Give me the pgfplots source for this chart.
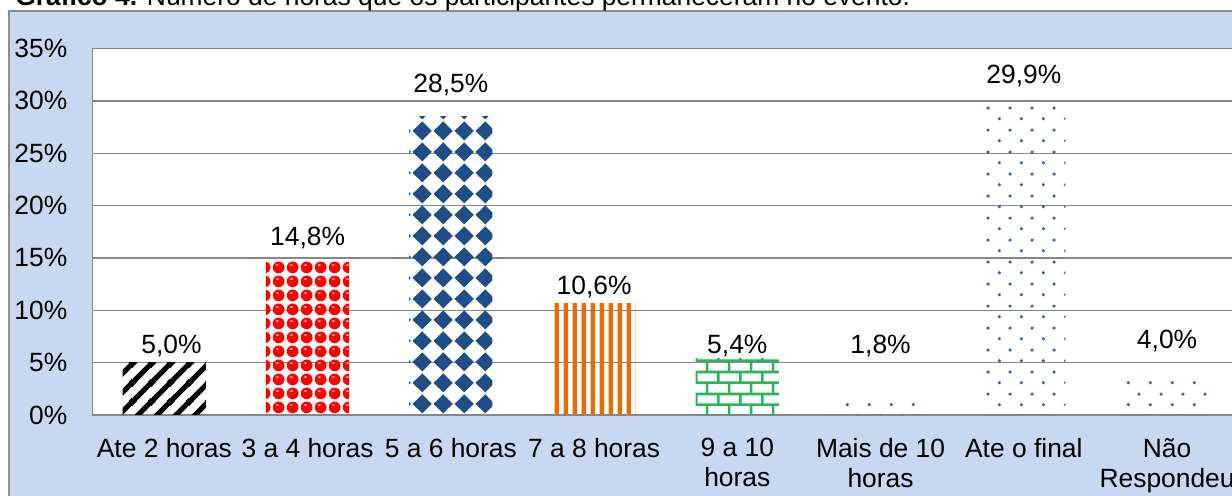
\documentclass[border=0pt]{standalone}
\usepackage{fontspec}
\setmainfont{Liberation Sans}
\usepackage{pgfplots}
\pgfplotsset{compat=1.18}
\usetikzlibrary{patterns.meta}
\definecolor{bgblue}{HTML}{C6D9F1}
\definecolor{framegray}{HTML}{8C8C8C}
\definecolor{gridgray}{HTML}{878787}
\definecolor{diamblue}{HTML}{1F4E86}
\definecolor{dotblue}{HTML}{3E62A0}
\definecolor{brickgreen}{HTML}{2BB45E}
\definecolor{orng}{HTML}{E46C0A}

\tikzdeclarepattern{name=bdiag, type=colored,
  bottom left={(0pt,0pt)}, top right={(9.5pt,9.5pt)}, tile size={(9.5pt,9.5pt)},
  code={
    \draw[black, line width=2.6pt] (-1pt,-1pt) -- (10.5pt,10.5pt);
    \draw[black, line width=2.6pt] (-5.75pt,3.75pt) -- (5.75pt,15.25pt);
    \draw[black, line width=2.6pt] (3.75pt,-5.75pt) -- (15.25pt,5.75pt);
  }}
\tikzdeclarepattern{name=redsph, type=colored,
  bottom left={(0pt,0pt)}, top right={(6.8pt,6.8pt)}, tile size={(6.8pt,6.8pt)},
  code={
    \fill[red] (3.4pt,3.4pt) circle (3.0pt);
    \fill[red!20!white] (2.7pt,4.6pt) ellipse (1.0pt and 0.45pt);
  }}
\tikzdeclarepattern{name=bdiam, type=colored,
  bottom left={(0pt,0pt)}, top right={(10.3pt,10.3pt)}, tile size={(10.3pt,10.3pt)},
  code={
    \fill[diamblue] (5.15pt,0.3pt) -- (10.0pt,5.15pt) -- (5.15pt,10.0pt) -- (0.3pt,5.15pt) -- cycle;
  }}
\tikzdeclarepattern{name=overt, type=colored,
  bottom left={(0pt,0pt)}, top right={(4.25pt,60pt)}, tile size={(4.25pt,60pt)},
  code={
    \fill[orng] (0.9pt,-1pt) rectangle (3.2pt,61pt);
  }}
\tikzdeclarepattern{name=gbrick, type=colored,
  bottom left={(0pt,0pt)}, top right={(10.8pt,10.8pt)}, tile size={(10.8pt,10.8pt)},
  code={
    \draw[brickgreen, line width=1.3pt] (-1pt,2.7pt) -- (11.8pt,2.7pt);
    \draw[brickgreen, line width=1.3pt] (-1pt,8.1pt) -- (11.8pt,8.1pt);
    \draw[brickgreen, line width=1.3pt] (2.7pt,2.7pt) -- (2.7pt,8.1pt);
    \draw[brickgreen, line width=1.3pt] (8.1pt,8.1pt) -- (8.1pt,11.8pt);
    \draw[brickgreen, line width=1.3pt] (8.1pt,-1pt) -- (8.1pt,2.7pt);
  }}
\tikzdeclarepattern{name=bdots, type=colored,
  bottom left={(0pt,0pt)}, top right={(10.8pt,10.8pt)}, tile size={(10.8pt,10.8pt)},
  code={
    \fill[dotblue] (2.7pt,2.7pt) circle (0.9pt);
    \fill[dotblue] (8.1pt,8.1pt) circle (0.9pt);
  }}

\begin{document}
\begin{tikzpicture}
\path[use as bounding box] (0,0) rectangle (616pt,248pt);
\clip (0,0) rectangle (616pt,248pt);
\fill[white] (0,0) rectangle (616pt,248pt);
\filldraw[fill=bgblue, draw=framegray, line width=0.8pt] (4.35pt,-20pt) rectangle (640pt,242.5pt);
\node[anchor=base west, inner sep=0pt, font=\fontsize{13.2}{15}\selectfont] at (7.5pt,245.15pt)
  {\textbf{Gráfico 4.} Número de horas que os participantes permaneceram no evento.};
\begin{axis}[
  at={(46.35pt,40.5pt)}, anchor=south west,
  scale only axis, width=573pt, height=183.25pt,
  xmin=-0.5, xmax=7.5, ymin=0, ymax=35,
  axis line style={draw=gridgray, line width=0.7pt},
  axis background/.style={fill=white},
  ytick={0,5,10,15,20,25,30,35},
  yticklabels={0\%,5\%,10\%,15\%,20\%,25\%,30\%,35\%},
  xtick={0,1,2,3,4,5,6,7},
  xticklabels={Ate 2 horas,3 a 4 horas,5 a 6 horas,7 a 8 horas,9 a 10\\horas,Mais de 10\\horas,Ate o final,Não\\Respondeu},
  major tick length=0pt,
  ymajorgrids,
  grid style={draw=gridgray, line width=0.7pt},
  bar width=41.65pt,
  tick label style={font=\fontsize{13.2}{15}\selectfont, text=black},
  xticklabel style={align=center, anchor=north, inner sep=0pt, yshift=-11.5pt},
  yticklabel style={anchor=east, inner sep=0pt, xshift=-12.5pt},
]
\addplot[ybar, bar shift=0pt, draw=none, pattern=bdiag] coordinates {(0,5.0)};
\addplot[ybar, bar shift=0pt, draw=none, pattern=redsph] coordinates {(1,14.8)};
\addplot[ybar, bar shift=0pt, draw=none, pattern=bdiam] coordinates {(2,28.5)};
\addplot[ybar, bar shift=0pt, draw=none, pattern=overt] coordinates {(3,10.6)};
\addplot[ybar, bar shift=0pt, draw=none, pattern=gbrick] coordinates {(4,5.35)};
\addplot[ybar, bar shift=0pt, draw=none, pattern=bdots] coordinates {(5,1.5)};
\addplot[ybar, bar shift=0pt, draw=none, pattern=bdots] coordinates {(6,29.85)};
\addplot[ybar, bar shift=0pt, draw=none, pattern=bdots] coordinates {(7,3.65)};
\addplot[only marks, mark=none, nodes near coords, point meta=explicit symbolic,
  every node near coord/.append style={anchor=south, inner sep=0pt, text depth=0pt,
    font=\fontsize{13.2}{15}\selectfont, text=black}]
  coordinates {
    (0.05,5.87) [5,0\%]
    (1,16.19) [14,8\%]
    (2,30.78) [28,5\%]
    (3,11.5) [10,6\%]
    (4,5.87) [5,4\%]
    (5,5.85) [1,8\%]
    (6,31.66) [29,9\%]
    (7,6.27) [4,0\%]
  };
\end{axis}
\end{tikzpicture}
\end{document}
